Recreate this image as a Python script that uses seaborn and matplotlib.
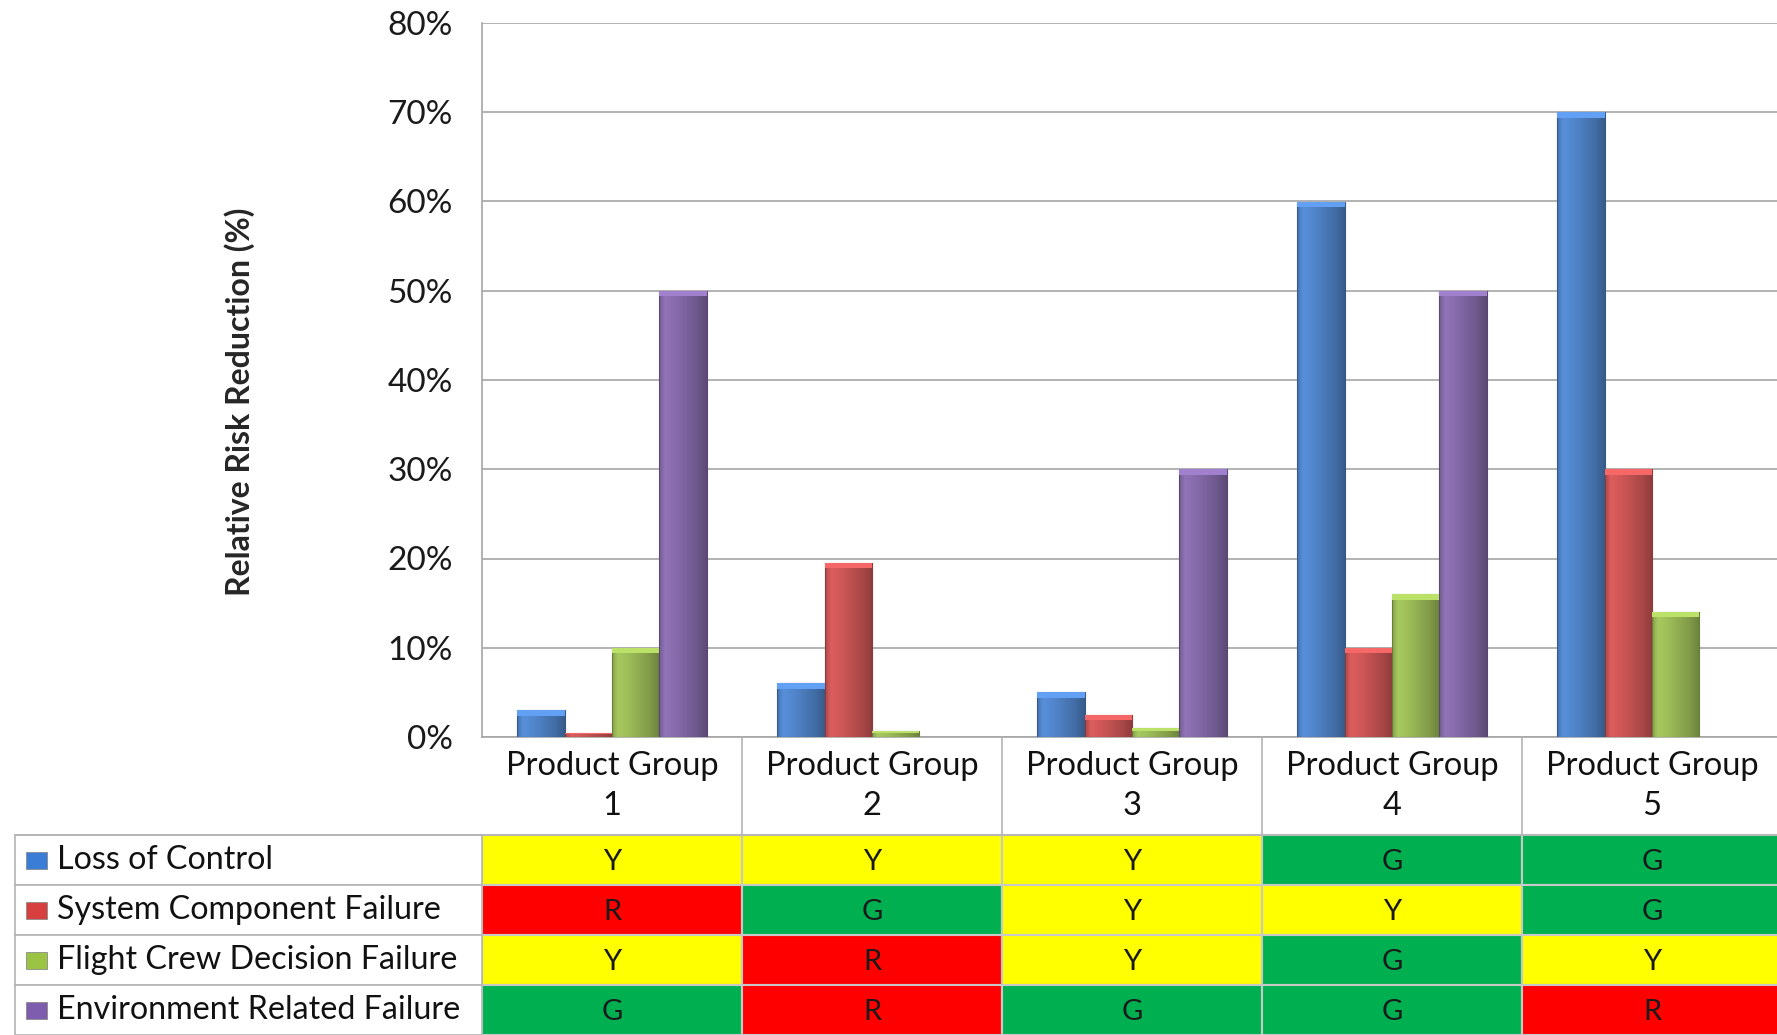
import numpy as np
import pandas as pd
import matplotlib
matplotlib.use("Agg")
import matplotlib.pyplot as plt
import matplotlib.colors as mcolors
from matplotlib.patches import Rectangle
import seaborn as sns

# data
groups = ["Product Group\n1", "Product Group\n2", "Product Group\n3",
          "Product Group\n4", "Product Group\n5"]
failure_types = ["Loss of Control", "System Component Failure",
                 "Flight Crew Decision Failure", "Environment Related Failure"]
loss_of_control = [0.03, 0.06, 0.05, 0.60, 0.70]
system_component = [0.005, 0.195, 0.025, 0.10, 0.30]
flight_crew = [0.10, 0.007, 0.01, 0.16, 0.14]
environment = [0.50, 0.0, 0.30, 0.50, 0.0]
ratings = [["Y", "Y", "Y", "G", "G"],
           ["R", "G", "Y", "Y", "G"],
           ["Y", "R", "Y", "G", "Y"],
           ["G", "R", "G", "G", "R"]]

bar_colors = ["#3A7DD6", "#D84040", "#9CC444", "#7F5DAE"]
cell_colors = {"Y": "#FFFF00", "G": "#00B050", "R": "#FF0000"}

df = pd.DataFrame({
    "group": groups * 4,
    "type": np.repeat(failure_types, 5),
    "value": loss_of_control + system_component + flight_crew + environment,
})

sns.set_style("white")
plt.rcParams["font.family"] = ["Lato", "DejaVu Sans"]

W, H = 1777, 1035
fig = plt.figure(figsize=(W / 100, H / 100), dpi=100)
left, top, base, colw = 482, 23, 737, 260
ax = fig.add_axes([left / W, (H - base) / H, 5 * colw / W, (base - top) / H])

sns.barplot(data=df, x="group", y="value", hue="type", order=groups,
            hue_order=failure_types, palette=bar_colors, width=0.73, gap=0,
            legend=False, ax=ax, zorder=3)

# shaded look on each bar
for p in list(ax.patches):
    h = p.get_height()
    if h <= 0:
        p.set_visible(False)
        continue
    x0, w = p.get_x(), p.get_width()
    base_rgb = np.array(mcolors.to_rgb(p.get_facecolor()))
    t = np.linspace(0, 1, 60)
    fac = np.interp(t, [0, 0.12, 0.35, 0.8, 1], [0.9, 1.12, 1.05, 0.85, 0.72])
    img = np.clip(base_rgb[None, :] * fac[:, None], 0, 1)[None, :, :]
    im = ax.imshow(img, extent=[x0, x0 + w, 0, h], aspect="auto", zorder=3,
                   interpolation="bilinear")
    im.set_clip_path(p)
    p.set_edgecolor(tuple(base_rgb * 0.7))
    p.set_linewidth(0.8)
    p.set_zorder(4)
    p.set_facecolor("none")
    cap = min(0.006, h * 0.3)
    ax.add_patch(Rectangle((x0, h - cap), w, cap, facecolor=tuple(np.clip(base_rgb * 1.25, 0, 1)),
                           edgecolor="none", zorder=4))

ax.set_xlim(-0.5, 4.5)
ax.set_ylim(0, 0.8)
ax.set_yticks(np.arange(0, 0.81, 0.1))
ax.set_yticklabels([f"{int(round(v * 100))}%" for v in np.arange(0, 0.81, 0.1)],
                   fontsize=24, color="#1a1a1a")
ax.set_xticks([])
ax.set_xlabel("")
ax.set_ylabel("Relative Risk Reduction (%)", fontsize=23, fontweight="bold")
ax.yaxis.set_label_coords(-0.175, 0.47)
ax.grid(axis="y", color="#A6A6A6", linewidth=1.2, zorder=0)
ax.tick_params(axis="y", length=9, color="#A6A6A6", width=1.2, pad=12)
for s in ["top", "right"]:
    ax.spines[s].set_visible(False)
for s in ["left", "bottom"]:
    ax.spines[s].set_color("#A6A6A6")
    ax.spines[s].set_linewidth(1.2)

# table under the chart
ax_t = fig.add_axes([left / W, 0, 5 * colw / W, (H - base) / H])
head_h = 98 / 50
ax_t.set_xlim(-0.5, 4.5)
ax_t.set_ylim(head_h + 4, 0)
ax_t.axis("off")
leg_left = -0.5 - (left - 15) / colw
line_c = "#B4B4B4"

for i, g in enumerate(groups):
    ax_t.text(i, head_h / 2, g, ha="center", va="center", fontsize=23.5,
              linespacing=1.4, color="#111111")
    ax_t.plot([i + 0.5, i + 0.5], [0, head_h], color=line_c, lw=1.2, clip_on=False)
ax_t.plot([leg_left, 4.6], [head_h, head_h], color=line_c, lw=1.2, clip_on=False)

for r, name in enumerate(failure_types):
    y0 = head_h + r
    for c, val in enumerate(ratings[r]):
        ax_t.add_patch(Rectangle((c - 0.5, y0), 1, 1, facecolor=cell_colors[val],
                                 edgecolor="#C8C8C8", lw=1.5, clip_on=False))
        ax_t.text(c, y0 + 0.55, val, ha="center", va="center", fontsize=21,
                  color="#1a1a1a")
    ax_t.add_patch(Rectangle((leg_left, y0), -0.5 - leg_left, 1, facecolor="white",
                             edgecolor=line_c, lw=1.2, clip_on=False))
    ax_t.add_patch(Rectangle((leg_left + 11 / colw, y0 + 0.34), 21 / colw, 0.34,
                             facecolor=bar_colors[r], edgecolor="#8a8a8a", lw=0.6,
                             clip_on=False))
    ax_t.text(leg_left + 42 / colw, y0 + 0.5, name, ha="left", va="center",
              fontsize=23.2, color="#111111")

fig.savefig("out.png", dpi=100)
